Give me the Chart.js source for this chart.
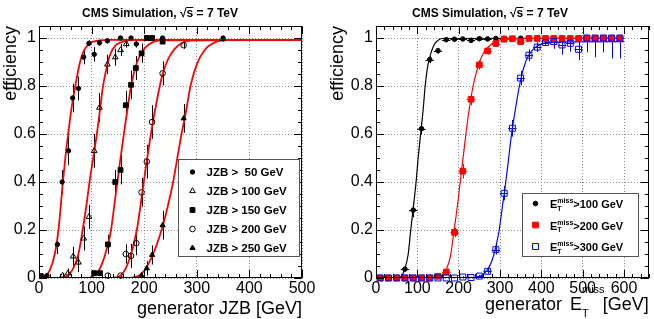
<!DOCTYPE html>
<html><head><meta charset="utf-8">
<script src="https://cdn.jsdelivr.net/npm/chart.js@4/dist/chart.umd.min.js"></script>
<style>
html,body{margin:0;padding:0;background:#fff;}
#wrap{display:flex;width:654px;height:319px;}
canvas{display:block;}
</style></head><body>
<div id="wrap"><canvas id="c1" width="327" height="319"></canvas><canvas id="c2" width="327" height="319"></canvas></div>
<script>
const FONT = '"Liberation Sans", Arial, Helvetica, sans-serif';

// ---------------- Left panel: generator JZB ----------------
const jzbLegend = ['JZB >  50 GeV', 'JZB > 100 GeV', 'JZB > 150 GeV', 'JZB > 200 GeV', 'JZB > 250 GeV'];

const jzb50X   = [5, 15, 35, 44, 56, 64, 75, 85, 95, 105, 115, 130, 155, 175, 185, 235, 350];
const jzb50Y   = [0.01, 0.01, 0.14, 0.40, 0.53, 0.75, 0.79, 0.92, 0.978, 0.932, 0.98, 0.988, 1.0, 1.0, 0.975, 1.0, 1.0];
const jzb50Err = [0.01, 0.01, 0.04, 0.05, 0.06, 0.06, 0.05, 0.03, 0.012, 0.03, 0.012, 0.01, 0.003, 0.003, 0.015, 0.003, 0.003];

const jzb100X   = [45, 55, 65, 75, 85, 95, 105, 115, 130, 145, 155, 166];
const jzb100Y   = [0.01, 0.02, 0.09, 0.065, 0.165, 0.255, 0.53, 0.71, 0.89, 0.92, 0.95, 0.975];
const jzb100Err = [0.01, 0.02, 0.04, 0.04, 0.05, 0.05, 0.07, 0.06, 0.04, 0.035, 0.025, 0.015];

const jzb150X   = [105, 116, 131, 145, 155, 165, 175, 184, 195, 205, 215, 235];
const jzb150Y   = [0.02, 0.02, 0.14, 0.40, 0.45, 0.72, 0.805, 0.875, 0.936, 1.0, 1.0, 0.985];
const jzb150Err = [0.01, 0.01, 0.04, 0.05, 0.06, 0.06, 0.06, 0.05, 0.04, 0.004, 0.004, 0.01];

const jzb200X   = [131, 155, 165, 175, 185, 195, 205, 215, 235, 275];
const jzb200Y   = [0.01, 0.01, 0.10, 0.092, 0.145, 0.357, 0.485, 0.65, 0.853, 0.97];
const jzb200Err = [0.01, 0.01, 0.04, 0.05, 0.05, 0.06, 0.07, 0.07, 0.05, 0.015];

const jzb250X   = [195, 205, 215, 235, 275, 350];
const jzb250Y   = [0.01, 0.04, 0.096, 0.22, 0.665, 0.995];
const jzb250Err = [0.01, 0.03, 0.04, 0.06, 0.06, 0.01];

// fitted turn-on curves
const fit50X  = [0, 10, 20, 30, 37, 45, 50, 56, 62, 69, 76, 82, 89, 100, 115, 130, 500];
const fit50Y  = [0.0, 0.005, 0.03, 0.1, 0.2, 0.39, 0.5, 0.61, 0.71, 0.8, 0.88, 0.93, 0.96, 0.982, 0.99, 0.992, 0.992];
const fit100X = [40, 55, 65, 75, 83, 90, 96, 103, 110, 116, 121, 128, 135, 146, 160, 180, 500];
const fit100Y = [0.0, 0.01, 0.04, 0.1, 0.2, 0.3, 0.4, 0.5, 0.6, 0.7, 0.79, 0.87, 0.93, 0.97, 0.985, 0.992, 0.992];
const fit150X = [95, 110, 120, 130, 137, 143, 149, 155, 162, 168, 175, 185, 195, 210, 230, 500];
const fit150Y = [0.0, 0.02, 0.06, 0.13, 0.2, 0.3, 0.4, 0.5, 0.61, 0.7, 0.8, 0.89, 0.94, 0.975, 0.99, 0.992];
const fit200X = [140, 155, 165, 175, 186, 196, 205, 215, 225, 235, 245, 258, 271, 290, 500];
const fit200Y = [0.0, 0.01, 0.04, 0.1, 0.2, 0.35, 0.49, 0.63, 0.75, 0.85, 0.91, 0.955, 0.978, 0.99, 0.992];
const fit250X = [175, 190, 200, 215, 233, 245, 255, 263, 271, 280, 288, 300, 315, 338, 360, 500];
const fit250Y = [0.0, 0.01, 0.03, 0.09, 0.2, 0.3, 0.4, 0.5, 0.6, 0.7, 0.8, 0.89, 0.95, 0.985, 0.992, 0.992];

// ---------------- Right panel: generator MET ----------------
const metLegend = ['>100 GeV', '>200 GeV', '>300 GeV'];
const metBins = [10, 30, 50, 70, 90, 110, 130, 150, 170, 190, 210, 230, 250, 270, 290,
                 310, 330, 350, 370, 390, 410, 430, 450, 470, 490, 510, 530, 550, 570, 590];
const metBinHalfWidth = 10;

const met100Y   = [0, 0, 0, 0.037, 0.283, 0.622, 0.91, 0.947, 0.993, 0.995, 0.996, 0.99, 0.997, 0.996, 0.998,
                   0.999, 0.998, 0.999, 1, 1, 1, 1, 1, 1, 1, 1, 1, 1, 1, 1];
const met100Err = [0.002, 0.002, 0.002, 0.008, 0.03, 0.025, 0.015, 0.012, 0.004, 0.003, 0.003, 0.003, 0.003, 0.003, 0.003,
                   0.003, 0.003, 0.003, 0.003, 0.003, 0.003, 0.003, 0.003, 0.003, 0.003, 0.003, 0.003, 0.003, 0.003, 0.003];

const met200Y   = [0, 0, 0, 0, 0, 0, 0, 0.007, 0.025, 0.19, 0.445, 0.745, 0.888, 0.946, 0.977,
                   0.995, 0.997, 0.985, 0.998, 0.998, 0.998, 0.998, 0.998, 0.998, 0.998, 0.998, 0.998, 0.998, 0.998, 0.998];
const met200Err = [0.002, 0.002, 0.002, 0.002, 0.002, 0.002, 0.002, 0.004, 0.008, 0.02, 0.03, 0.025, 0.02, 0.015, 0.01,
                   0.005, 0.005, 0.008, 0.004, 0.004, 0.004, 0.004, 0.004, 0.004, 0.004, 0.004, 0.004, 0.004, 0.004, 0.004];

const met300Y     = [0, 0, 0, 0, 0, 0, 0, 0, 0, 0, 0.004, 0.002, 0.008, 0.028, 0.118,
                     0.353, 0.624, 0.833, 0.928, 0.962, 0.981, 0.985, 0.971, 0.978, 0.953, 1, 1, 1, 1, 1];
const met300ErrLo = [0.002, 0.002, 0.002, 0.002, 0.002, 0.002, 0.002, 0.002, 0.002, 0.002, 0.003, 0.003, 0.005, 0.01, 0.02,
                     0.03, 0.035, 0.03, 0.025, 0.02, 0.015, 0.03, 0.04, 0.035, 0.045, 0.06, 0.08, 0.06, 0.085, 0.085];
const met300ErrHi = [0.002, 0.002, 0.002, 0.002, 0.002, 0.002, 0.002, 0.002, 0.002, 0.002, 0.003, 0.003, 0.005, 0.01, 0.02,
                     0.03, 0.035, 0.03, 0.025, 0.02, 0.012, 0.012, 0.025, 0.02, 0.04, 0, 0, 0, 0, 0];

const fitMet100X = [0, 50, 60, 70, 78, 84, 90, 97, 102, 108, 114, 119, 124, 130, 140, 150, 160, 600];
const fitMet100Y = [0, 0, 0.005, 0.04, 0.1, 0.2, 0.29, 0.4, 0.5, 0.6, 0.7, 0.8, 0.87, 0.92, 0.97, 0.99, 0.998, 1.0];
const fitMet200X = [0, 140, 150, 160, 170, 180, 189, 197, 205, 212, 219, 227, 235, 245, 255, 265, 280, 295, 320, 600];
const fitMet200Y = [0, 0, 0.004, 0.013, 0.035, 0.09, 0.2, 0.3, 0.42, 0.52, 0.62, 0.72, 0.8, 0.87, 0.92, 0.95, 0.975, 0.99, 0.998, 0.998];
const fitMet300X = [0, 240, 255, 270, 280, 290, 298, 306, 314, 321, 328, 337, 347, 358, 370, 385, 400, 420, 600];
const fitMet300Y = [0, 0, 0.01, 0.035, 0.07, 0.13, 0.2, 0.3, 0.4, 0.5, 0.6, 0.7, 0.8, 0.88, 0.93, 0.96, 0.975, 0.983, 0.985];

// ---------------- helpers ----------------
const pts = (xs, ys) => xs.map((x, i) => ({x: x, y: ys[i]}));

function markerSet(xs, ys, errLo, errHi, style, errX) {
  return Object.assign({
    data: pts(xs, ys), showLine: false, clip: 8,
    errLo: errLo, errHi: errHi, errX: errX || 0,
    pointBorderWidth: 1, pointHoverRadius: 0
  }, style);
}
function curveSet(xs, ys, color, width) {
  return {
    data: pts(xs, ys), showLine: true, pointRadius: 0, pointHoverRadius: 0,
    borderColor: color, borderWidth: width, fill: false,
    cubicInterpolationMode: 'monotone', backgroundColor: color
  };
}

function drawErrors(chart) {
  const ctx = chart.ctx, xs = chart.scales.x, ys = chart.scales.y, a = chart.chartArea;
  ctx.save();
  ctx.beginPath(); ctx.rect(a.left, a.top - 4, a.right - a.left, a.bottom - a.top + 4); ctx.clip();
  ctx.lineWidth = 1;
  chart.data.datasets.forEach(ds => {
    if (!ds.errLo) return;
    ctx.strokeStyle = ds.errColor;
    ds.data.forEach((p, j) => {
      const px = Math.round(xs.getPixelForValue(p.x)) + 0.5;
      const py = Math.round(ys.getPixelForValue(p.y)) + 0.5;
      const y1 = ys.getPixelForValue(p.y - ds.errLo[j]);
      const y2 = ys.getPixelForValue(p.y + ds.errHi[j]);
      ctx.beginPath(); ctx.moveTo(px, y1); ctx.lineTo(px, y2); ctx.stroke();
      if (ds.errX) {
        const x1 = xs.getPixelForValue(p.x - ds.errX), x2 = xs.getPixelForValue(p.x + ds.errX);
        ctx.beginPath(); ctx.moveTo(x1, py); ctx.lineTo(x2, py); ctx.stroke();
      }
    });
  });
  ctx.restore();
}

function drawTitle(ctx, cx, y) {
  ctx.save();
  ctx.font = 'bold 12px ' + FONT; ctx.fillStyle = '#000';
  ctx.textAlign = 'left'; ctx.textBaseline = 'alphabetic';
  const a = 'CMS Simulation, ', r = '\u221A', s = 's', b = ' = 7 TeV';
  const wa = ctx.measureText(a).width, wr = ctx.measureText(r).width,
        ws = ctx.measureText(s).width, wb = ctx.measureText(b).width;
  let x = cx - (wa + wr + ws + wb) / 2;
  ctx.fillText(a, x, y); x += wa;
  ctx.fillText(r, x, y); x += wr;
  ctx.fillText(s, x, y);
  ctx.fillRect(x - 0.5, y - 10, ws + 0.5, 1);
  x += ws;
  ctx.fillText(b, x, y);
  ctx.restore();
}

function drawFrameAndTicks(chart, xMinor, xMajor) {
  const ctx = chart.ctx, a = chart.chartArea, xs = chart.scales.x, ys = chart.scales.y;
  ctx.save();
  ctx.strokeStyle = '#000'; ctx.lineWidth = 1;
  ctx.beginPath();
  const nx = Math.floor(xs.max / xMinor + 1e-9);
  for (let i = 0; i <= nx; i++) {
    const v = i * xMinor;
    const px = Math.round(xs.getPixelForValue(v)) + 0.5;
    const len = (Math.abs(v / xMajor - Math.round(v / xMajor)) < 1e-6) ? 8 : 4;
    ctx.moveTo(px, a.bottom); ctx.lineTo(px, a.bottom - len);
    ctx.moveTo(px, a.top); ctx.lineTo(px, a.top + len);
  }
  const ny = Math.floor(ys.max / 0.05 + 1e-9);
  for (let i = 0; i <= ny; i++) {
    const v = i * 0.05;
    const py = Math.round(ys.getPixelForValue(v)) + 0.5;
    const len = (i % 4 === 0) ? 8 : 4;
    ctx.moveTo(a.left, py); ctx.lineTo(a.left + len, py);
    ctx.moveTo(a.right, py); ctx.lineTo(a.right - len, py);
  }
  ctx.stroke();
  ctx.strokeRect(Math.round(a.left) + 0.5, Math.round(a.top) + 0.5,
                 Math.round(a.right - a.left) - 1, Math.round(a.bottom - a.top) - 1);
  ctx.restore();
}

function drawMarker(ctx, ds, x, y) {
  ctx.save();
  ctx.fillStyle = ds.pointBackgroundColor;
  ctx.strokeStyle = ds.pointBorderColor;
  ctx.lineWidth = 1;
  Chart.helpers.drawPoint(ctx, {pointStyle: ds.pointStyle, radius: ds.pointRadius, rotation: 0, borderWidth: 1}, x, y);
  ctx.restore();
}

function baseOptions(xMax, yWidth, rightPad) {
  return {
    responsive: false, animation: false, devicePixelRatio: 1,
    layout: {padding: {left: 0, right: rightPad, top: 26, bottom: 0}},
    plugins: {legend: {display: false}, tooltip: {enabled: false}, title: {display: false}},
    events: [],
    scales: {
      x: {
        type: 'linear', min: 0, max: xMax,
        afterFit: s => { s.height = 41; },
        ticks: {stepSize: 100, includeBounds: false, autoSkip: false, maxRotation: 0,
                font: {size: 16, family: FONT}, color: '#000', padding: 1},
        grid: {color: '#8c8c8c', lineWidth: 1, drawTicks: false},
        border: {display: false, dash: [1, 2]}
      },
      y: {
        type: 'linear', min: 0, max: 1.05,
        afterFit: s => { s.width = yWidth; },
        ticks: {stepSize: 0.2, includeBounds: false, autoSkip: false,
                font: {size: 16, family: FONT}, color: '#000', padding: 3,
                callback: v => String(Math.round(v * 100) / 100)},
        grid: {color: '#8c8c8c', lineWidth: 1, drawTicks: false},
        border: {display: false, dash: [1, 2]},
        title: {display: true, text: 'efficiency', align: 'end', color: '#000',
                font: {size: 18, family: FONT}, padding: 0}
      }
    }
  };
}

// ---------------- Left chart ----------------
const leftStyles = [
  {pointStyle: 'circle',   pointRadius: 2.2, pointBackgroundColor: '#000', pointBorderColor: '#000', errColor: '#000'},
  {pointStyle: 'triangle', pointRadius: 3.3, pointBackgroundColor: 'rgba(0,0,0,0)', pointBorderColor: '#000', errColor: '#000'},
  {pointStyle: 'rect',     pointRadius: 3.4, pointBackgroundColor: '#000', pointBorderColor: '#000', errColor: '#000'},
  {pointStyle: 'circle',   pointRadius: 2.8, pointBackgroundColor: 'rgba(0,0,0,0)', pointBorderColor: '#000', errColor: '#000'},
  {pointStyle: 'triangle', pointRadius: 3.0, pointBackgroundColor: '#000', pointBorderColor: '#000', errColor: '#000'}
];
const leftMarkers = [
  markerSet(jzb50X, jzb50Y, jzb50Err, jzb50Err, leftStyles[0]),
  markerSet(jzb100X, jzb100Y, jzb100Err, jzb100Err, leftStyles[1]),
  markerSet(jzb150X, jzb150Y, jzb150Err, jzb150Err, leftStyles[2]),
  markerSet(jzb200X, jzb200Y, jzb200Err, jzb200Err, leftStyles[3]),
  markerSet(jzb250X, jzb250Y, jzb250Err, jzb250Err, leftStyles[4])
];
const leftCurves = [
  curveSet(fit50X, fit50Y, '#ff0000', 1.8),
  curveSet(fit100X, fit100Y, '#ff0000', 1.8),
  curveSet(fit150X, fit150Y, '#ff0000', 1.8),
  curveSet(fit200X, fit200Y, '#ff0000', 1.8),
  curveSet(fit250X, fit250Y, '#ff0000', 1.8)
];

const leftPlugin = {
  id: 'decoLeft',
  beforeDatasetsDraw(chart) { drawErrors(chart); },
  afterDraw(chart) {
    const ctx = chart.ctx, a = chart.chartArea;
    drawFrameAndTicks(chart, 20, 100);
    drawTitle(ctx, 160, 17);
    // x title
    ctx.save();
    ctx.font = '18px ' + FONT; ctx.fillStyle = '#000';
    ctx.textAlign = 'right'; ctx.textBaseline = 'alphabetic';
    ctx.fillText('generator JZB [GeV]', a.right, 314);
    // legend
    ctx.fillStyle = '#fff'; ctx.strokeStyle = '#555'; ctx.lineWidth = 1;
    ctx.fillRect(178.5, 159.5, 121, 97); ctx.strokeRect(178.5, 159.5, 121, 97);
    ctx.font = 'bold 11.5px ' + FONT; ctx.fillStyle = '#000'; ctx.textAlign = 'left';
    jzbLegend.forEach((t, i) => {
      const ry = 172 + i * 19;
      drawMarker(ctx, leftStyles[i], 192.5, ry);
      ctx.fillStyle = '#000';
      ctx.fillText(t, 206.5, ry + 4);
    });
    ctx.restore();
  }
};

new Chart(document.getElementById('c1'), {
  type: 'scatter',
  data: {datasets: leftMarkers.concat(leftCurves)},
  options: baseOptions(500, 39, 25),
  plugins: [leftPlugin]
});

// ---------------- Right chart ----------------
const rightStyles = [
  {pointStyle: 'circle', pointRadius: 2.3, pointBackgroundColor: '#000', pointBorderColor: '#000', errColor: '#000'},
  {pointStyle: 'rect',   pointRadius: 4.0, pointBackgroundColor: '#ff0000', pointBorderColor: '#ff0000', errColor: '#ff0000'},
  {pointStyle: 'rect',   pointRadius: 4.2, pointBackgroundColor: 'rgba(0,0,0,0)', pointBorderColor: '#0000ff', errColor: '#0000ff'}
];
const rightMarkers = [
  markerSet(metBins, met300Y, met300ErrLo, met300ErrHi, rightStyles[2], metBinHalfWidth),
  markerSet(metBins, met200Y, met200Err, met200Err, rightStyles[1], metBinHalfWidth),
  markerSet(metBins, met100Y, met100Err, met100Err, rightStyles[0], metBinHalfWidth)
];
const rightCurves = [
  curveSet(fitMet300X, fitMet300Y, '#0000ff', 1.2),
  curveSet(fitMet200X, fitMet200Y, '#ff0000', 1.2),
  curveSet(fitMet100X, fitMet100Y, '#000000', 1.2)
];

function drawEmiss(ctx, x, y, big, small, supDy, subDy, rest, bold) {
  const b = bold ? 'bold ' : '';
  ctx.font = b + big + 'px ' + FONT;
  ctx.fillText('E', x, y);
  let cx = x + ctx.measureText('E').width;
  ctx.font = b + small + 'px ' + FONT;
  ctx.fillText('miss', cx, y + supDy);
  ctx.fillText('T', cx, y + subDy);
  cx += ctx.measureText('miss').width;
  ctx.font = b + big + 'px ' + FONT;
  ctx.fillText(rest, cx, y);
  return cx + ctx.measureText(rest).width;
}

const rightPlugin = {
  id: 'decoRight',
  beforeDatasetsDraw(chart) { drawErrors(chart); },
  afterDraw(chart) {
    const ctx = chart.ctx, a = chart.chartArea;
    drawFrameAndTicks(chart, 20, 100);
    drawTitle(ctx, 163, 17);
    ctx.save();
    ctx.fillStyle = '#000'; ctx.textBaseline = 'alphabetic';
    // x title: generator E_T^miss [GeV]
    ctx.font = '18px ' + FONT;
    ctx.textAlign = 'left';
    ctx.fillText('generator', 158, 310);
    ctx.fillText('E', 243, 310);
    const eW = ctx.measureText('E').width;
    ctx.font = '11px ' + FONT;
    ctx.fillText('miss', 243 + eW, 293);
    ctx.fillText('T', 243 + eW, 317);
    ctx.font = '18px ' + FONT;
    ctx.textAlign = 'right';
    ctx.fillText('[GeV]', a.right, 310);
    ctx.textAlign = 'left';
    // legend
    ctx.fillStyle = '#fff'; ctx.strokeStyle = '#555'; ctx.lineWidth = 1;
    ctx.fillRect(195.5, 193.5, 116, 63); ctx.strokeRect(195.5, 193.5, 116, 63);
    const rows = [203.5, 225, 246.5];
    metLegend.forEach((t, i) => {
      drawMarker(ctx, rightStyles[i], 208.5, rows[i]);
      ctx.fillStyle = '#000';
      drawEmiss(ctx, 223, rows[i] + 4.5, 11, 7, -5, 2.5, t, true);
    });
    ctx.restore();
  }
};

new Chart(document.getElementById('c2'), {
  type: 'scatter',
  data: {datasets: rightMarkers.concat(rightCurves)},
  options: baseOptions(660, 49, 5),
  plugins: [rightPlugin]
});
</script>
</body></html>
